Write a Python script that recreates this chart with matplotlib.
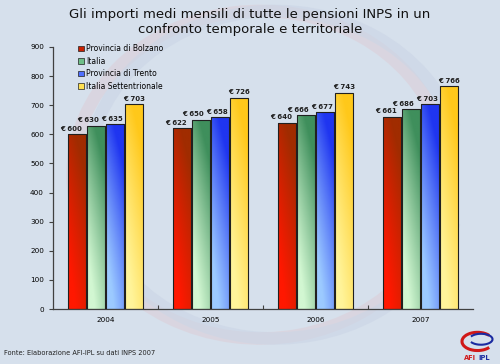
"""Importi medi mensili pensioni INPS: confronto temporale e territoriale."""

import matplotlib
matplotlib.use("Agg")
import matplotlib.pyplot as plt
import numpy as np
from matplotlib.colors import LinearSegmentedColormap
from matplotlib.patches import Arc

years = ["2004", "2005", "2006", "2007"]
series = ["Provincia di Bolzano", "Italia", "Provincia di Trento", "Italia Settentrionale"]
bolzano = [600, 622, 640, 661]
italia = [630, 650, 666, 686]
trento = [635, 658, 677, 703]
nord = [703, 726, 743, 766]

# (bottom colour, top colour, legend colour) per series
GRADS = [("#ff1800", "#a02c00", "#c82000"),
         ("#d2f7d2", "#3f8f5c", "#6fbf88"),
         ("#9ccaff", "#1f35f0", "#4f70ff"),
         ("#fff49a", "#ffc81a", "#ffe050")]
LABEL_SHIFT = [-0.055, -0.075, -0.03, 0.0]  # label offsets from bar centre
BG = "#d6e0ec"


def gradient_bar(ax, rect, c_bot, c_top):
    x0, y0 = rect.get_x(), rect.get_y()
    w, h = rect.get_width(), rect.get_height()
    cmap = LinearSegmentedColormap.from_list("g", [c_bot, c_top])
    v = np.linspace(0, 1, 128)[:, None]
    hz = np.linspace(-0.2, 0.3, 32)[None, :]
    img = np.clip(v ** 1.3 + hz, 0, 1)
    im = ax.imshow(img, cmap=cmap, vmin=0, vmax=1, origin="lower",
                   extent=(x0, x0 + w, y0, y0 + h), aspect="auto", zorder=2)
    im.set_clip_path(rect)


def main():
    fig = plt.figure(figsize=(5.0, 3.64), dpi=100, facecolor=BG)

    # faint watermark swoosh behind the axes
    for cx, col in ((0.52, "#dccfd8"), (0.55, "#cbd5e6")):
        fig.patches.append(Arc((cx, 0.52), 0.75, 0.9, theta1=20, theta2=340,
                               transform=fig.transFigure, lw=9, color=col,
                               alpha=0.6, zorder=-1))

    ax = fig.add_axes([0.106, 0.151, 0.840, 0.720])
    ax.set_facecolor("none")

    x = np.arange(len(years))
    width = 0.18
    data = [bolzano, italia, trento, nord]
    for i, (vals, name) in enumerate(zip(data, series)):
        off = (i - 1.5) * width
        bars = ax.bar(x + off, vals, width * 0.96, facecolor="none",
                      edgecolor="#202020", linewidth=0.8, zorder=3, label=name)
        for rect in bars:
            gradient_bar(ax, rect, GRADS[i][0], GRADS[i][1])
        for xi, v in zip(x + off + LABEL_SHIFT[i], vals):
            ax.text(xi, v + 8, f"€ {v}", ha="center", va="bottom", fontsize=5.0,
                    fontweight="bold", color="#202020", zorder=4)

    ax.set_xlim(-0.5, len(years) - 0.5)
    ax.set_ylim(0, 900)
    ax.set_yticks(np.arange(0, 901, 100))
    ax.set_xticks(x)
    ax.set_xticklabels(years)
    ax.set_xticks(np.arange(0.5, len(years) - 0.5, 1), minor=True)
    ax.tick_params(axis="x", which="major", length=0, labelsize=5.2, pad=6)
    ax.tick_params(axis="x", which="minor", length=3, width=0.8, direction="in",
                   color="#404040")
    ax.tick_params(axis="y", length=3, width=0.8, labelsize=5.2, color="#404040")
    for s in ("top", "right"):
        ax.spines[s].set_visible(False)
    for s in ("left", "bottom"):
        ax.spines[s].set_color("#404040")
        ax.spines[s].set_linewidth(0.9)

    handles = [plt.Rectangle((0, 0), 1, 1, facecolor=GRADS[i][2],
                             edgecolor="#202020", lw=0.5) for i in range(4)]
    ax.legend(handles, series, loc="upper left", bbox_to_anchor=(0.05, 1.025),
              frameon=False, fontsize=5.5, handlelength=0.75, handleheight=0.75,
              handletextpad=0.3, labelspacing=0.45, borderpad=0)

    fig.text(0.5, 0.978, "Gli importi medi mensili di tutte le pensioni INPS in un\n"
             "confronto temporale e territoriale", ha="center", va="top",
             fontsize=9.5, color="#111111", linespacing=1.2)
    fig.text(0.008, 0.03, "Fonte: Elaborazione AFI-IPL su dati INPS 2007",
             fontsize=4.8, color="#222222", va="center")

    # logo
    fig.patches.append(Arc((0.955, 0.062), 0.062, 0.05, theta1=35, theta2=325,
                           transform=fig.transFigure, lw=2.2, color="#d01818"))
    fig.patches.append(Arc((0.962, 0.068), 0.046, 0.03, theta1=200, theta2=160,
                           transform=fig.transFigure, lw=1.5, color="#1a2aa0"))
    fig.text(0.927, 0.016, "AFI", fontsize=4.8, fontweight="bold", color="#d01818",
             va="center")
    fig.text(0.956, 0.016, "IPL", fontsize=4.8, fontweight="bold", color="#1a2aa0",
             va="center")

    fig.savefig("out.png", dpi=100, facecolor=BG)


if __name__ == "__main__":
    main()
